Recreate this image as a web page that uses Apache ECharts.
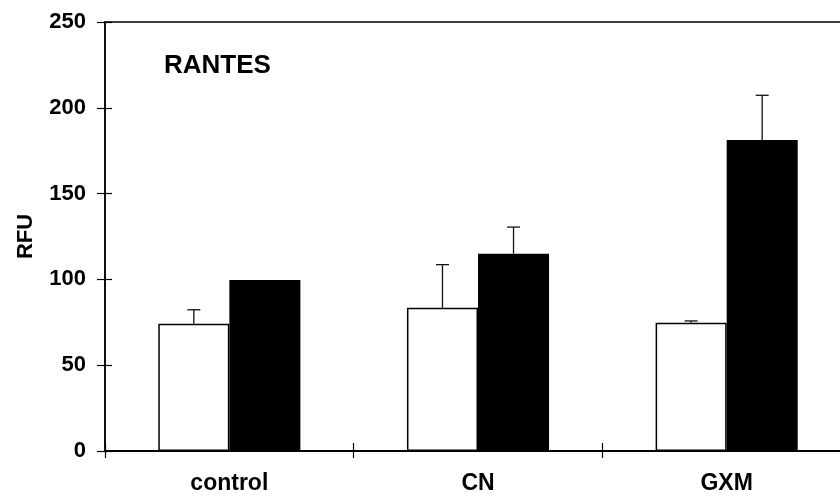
<!DOCTYPE html>
<html>
<head>
<meta charset="utf-8">
<script src="https://cdn.jsdelivr.net/npm/echarts@6/dist/echarts.min.js"></script>
<style>
html,body{margin:0;padding:0;background:#fff;}
#main{width:840px;height:498px;}
</style>
</head>
<body>
<div id="main"></div>
<script>
const categories = ['control', 'CN', 'GXM'];
const whiteValues = [74.2, 83.5, 74.8];
const blackValues = [99.6, 115.0, 181.2];
const whiteErrors = [8.1, 25.1, 1.0];
const blackErrors = [0, 15.5, 26.1];
const yTicks = [0, 50, 100, 150, 200, 250];

const FONT = '"Liberation Sans", Arial, sans-serif';
const BAR_FRAC = 0.2857;

function errorSeries(values, errors, side) {
  const data = values.map((v, i) => [i, v, v + errors[i]]);
  return {
    type: 'custom',
    xAxisIndex: 0,
    yAxisIndex: 0,
    z: 5,
    silent: true,
    data: data,
    renderItem: function (params, api) {
      const idx = api.value(0);
      const base = api.coord([idx, api.value(1)]);
      const top = api.coord([idx, api.value(2)]);
      const band = api.size([1, 0])[0];
      const x = base[0] + side * band * BAR_FRAC / 2;
      if (Math.abs(top[1] - base[1]) < 0.5) return null;
      const cap = 6.5;
      return {
        type: 'group',
        children: [
          { type: 'line', shape: { x1: x, y1: base[1], x2: x, y2: top[1] },
            style: { stroke: '#111', lineWidth: 1.3 } },
          { type: 'line', shape: { x1: x - cap, y1: top[1], x2: x + cap, y2: top[1] },
            style: { stroke: '#111', lineWidth: 1.3 } }
        ]
      };
    }
  };
}

const chart = echarts.init(document.getElementById('main'), null, { renderer: 'canvas' });
chart.setOption({
  animation: false,
  backgroundColor: '#ffffff',
  title: {
    text: 'RANTES',
    left: 159,
    top: 48,
    textStyle: { fontFamily: FONT, fontWeight: 'bold', fontSize: 26, color: '#000' }
  },
  grid: {
    left: 105, top: 22, width: 746, bottom: 47,
    outerBoundsMode: 'none',
    containLabel: false,
    show: true, borderColor: '#000', borderWidth: 1.5, backgroundColor: 'transparent'
  },
  xAxis: [{
    type: 'category',
    data: categories,
    axisLine: { lineStyle: { color: '#000', width: 2 } },
    axisTick: { show: true, length: 7, lineStyle: { color: '#000', width: 1.2 } },
    axisLabel: { margin: 21, fontFamily: FONT, fontWeight: 'bold', fontSize: 23, color: '#000' },
    splitLine: { show: false }
  }, {
    type: 'category',
    data: categories,
    position: 'bottom',
    gridIndex: 0,
    axisLine: { show: false },
    axisTick: { show: true, inside: true, length: 8, lineStyle: { color: '#000', width: 1.2 } },
    axisLabel: { show: false },
    splitLine: { show: false }
  }],
  yAxis: [{
    type: 'value',
    min: 0, max: 250, interval: 50,
    name: 'RFU',
    nameLocation: 'middle',
    nameGap: 68,
    nameRotate: 90,
    nameTextStyle: { fontFamily: FONT, fontWeight: 'bold', fontSize: 22, color: '#000' },
    axisLine: { show: true, lineStyle: { color: '#000', width: 1.5 } },
    axisTick: { show: true, length: 8, lineStyle: { color: '#000', width: 1.2 } },
    axisLabel: {
      margin: 19, fontFamily: FONT, fontWeight: 'bold', fontSize: 22, color: '#000',
      formatter: function (v) { return yTicks.indexOf(v) >= 0 ? String(v) : ''; }
    },
    splitLine: { show: false }
  }, {
    type: 'value',
    min: 0, max: 250, interval: 50,
    position: 'left',
    axisLine: { show: false },
    axisTick: { show: true, inside: true, length: 7, lineStyle: { color: '#000', width: 1.2 } },
    axisLabel: { show: false },
    splitLine: { show: false }
  }],
  series: [{
    type: 'bar',
    data: whiteValues,
    barWidth: (BAR_FRAC * 100) + '%',
    barGap: '0%',
    itemStyle: { color: '#ffffff', borderColor: '#000', borderWidth: 1.5 },
    z: 2
  }, {
    type: 'bar',
    data: blackValues,
    barWidth: (BAR_FRAC * 100) + '%',
    barGap: '0%',
    itemStyle: { color: '#000000', borderColor: '#000', borderWidth: 0 },
    z: 3
  },
    errorSeries(whiteValues, whiteErrors, -1),
    errorSeries(blackValues, blackErrors, 1)
  ]
});
</script>
</body>
</html>
